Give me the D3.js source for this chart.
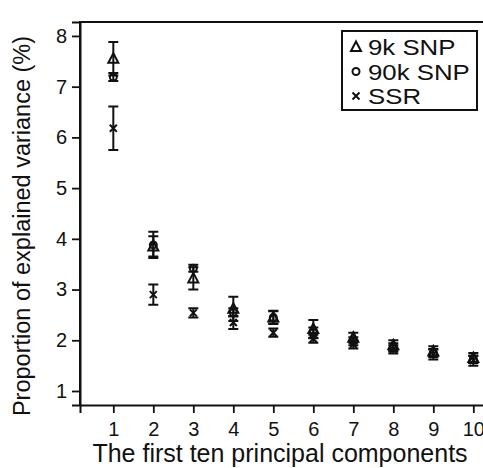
<!DOCTYPE html>
<html><head><meta charset="utf-8">
<script src="https://cdn.jsdelivr.net/npm/d3@7"></script>
<style>body{margin:0;background:#fff}text{font-family:"Liberation Sans",Arial,sans-serif;fill:#111}</style>
</head><body><svg id="c" width="483" height="468"></svg>
<script>
const components = [1,2,3,4,5,6,7,8,9,10];
const yTicks = [1,2,3,4,5,6,7,8];
const snp9kMean = [7.55,3.85,3.22,2.62,2.45,2.22,2.05,1.9,1.78,1.65];
const snp9kErr  = [0.33,0.2,0.22,0.24,0.13,0.18,0.1,0.1,0.1,0.1];
const snp90kMean= [7.19,3.88,3.42,2.55,2.45,2.15,1.98,1.86,1.75,1.62];
const snp90kErr = [0.08,0.26,0.07,0.08,0.12,0.1,0.08,0.08,0.08,0.07];
const ssrMean   = [6.18,2.9,2.54,2.35,2.15,2.03,1.92,1.82,1.72,1.6];
const ssrErr    = [0.43,0.2,0.09,0.13,0.08,0.08,0.08,0.08,0.1,0.1];
const seriesNames = ["9k SNP","90k SNP","SSR"];

const svg = d3.select("#c");
const L=80,R=484,T=22,B=405;
const x = d3.scaleLinear().domain([0.167,10.267]).range([L,R]);
const y = d3.scaleLinear().domain([0.724,8.275]).range([B,T]);

svg.append("path").attr("d",`M${L},${B}V${T}H${R}`).attr("fill","none").attr("stroke","#111").attr("stroke-width",2);
const xa = svg.append("g").attr("transform",`translate(0,${B})`)
  .call(d3.axisBottom(x).tickValues(components).tickFormat(d3.format("d")).tickSize(8).tickPadding(8));
const ya = svg.append("g").attr("transform",`translate(${L},0)`)
  .call(d3.axisLeft(y).tickValues(yTicks).tickFormat(d3.format("d")).tickSize(8).tickPadding(5));
[xa,ya].forEach(a=>{a.select(".domain").attr("stroke","#111").attr("stroke-width",2);
  a.selectAll(".tick line").attr("stroke","#111").attr("stroke-width",1.8);
  a.selectAll(".tick text").style("font-size","20px").attr("fill","#111").style("font-family","'Liberation Sans',Arial,sans-serif");});
xa.selectAll(".tick text").attr("dy","0.75em");

svg.append("text").attr("x",280).attr("y",462).attr("text-anchor","middle").style("font-size","25px").text("The first ten principal components");
svg.append("text").attr("transform","translate(30,226) rotate(-90)").attr("text-anchor","middle").style("font-size","23.5px").text("Proportion of explained variance (%)");

const series = [
  {m:snp9kMean,e:snp9kErr,shape:"tri"},
  {m:snp90kMean,e:snp90kErr,shape:"circ"},
  {m:ssrMean,e:ssrErr,shape:"x"}];

function drawMarker(g,shape,cx,cy){
  if(shape==="tri"){
    g.append("path").attr("d",`M${cx},${cy-5.5}L${cx+5},${cy+4}L${cx-5},${cy+4}Z`).attr("fill","none").attr("stroke","#111").attr("stroke-width",2);
  } else if(shape==="circ"){
    g.append("circle").attr("cx",cx).attr("cy",cy).attr("r",3.5).attr("fill","none").attr("stroke","#111").attr("stroke-width",2);
  } else {
    g.append("path").attr("d",`M${cx-3.5},${cy-3.5}L${cx+3.5},${cy+3.5}M${cx+3.5},${cy-3.5}L${cx-3.5},${cy+3.5}`).attr("stroke","#111").attr("stroke-width",2);
  }
}
const plot = svg.append("g");
series.forEach(s=>{
  components.forEach((c,i)=>{
    const cx=x(c), y0=y(s.m[i]-s.e[i]), y1=y(s.m[i]+s.e[i]);
    plot.append("path").attr("d",`M${cx},${y0}V${y1}M${cx-5},${y0}H${cx+5}M${cx-5},${y1}H${cx+5}`).attr("stroke","#111").attr("stroke-width",2).attr("fill","none");
    drawMarker(plot,s.shape,cx,y(s.m[i]));
  });
});

const lg = svg.append("g");
lg.append("rect").attr("x",342).attr("y",31).attr("width",135).attr("height",79).attr("fill","#fff").attr("stroke","#111").attr("stroke-width",2);
seriesNames.forEach((n,i)=>{
  const cy = 47+i*24.5;
  drawMarker(lg,series[i].shape,356,cy);
  lg.append("text").attr("transform",`translate(368,${cy+8}) scale(1.2,1)`).style("font-size","21.5px").text(n);
});
</script></body></html>
